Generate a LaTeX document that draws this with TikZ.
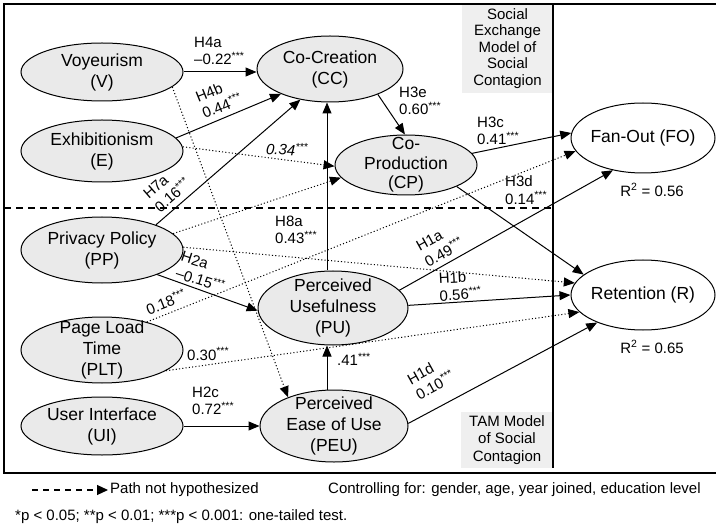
\documentclass[tikz,border=0pt]{standalone}
\usepackage{fontspec}
\setmainfont{Liberation Sans}
\usetikzlibrary{arrows.meta,shapes.geometric}
\definecolor{latfill}{HTML}{EAEAEA}
\definecolor{boxfill}{HTML}{EFEFEF}
\newcommand\sig{\textsuperscript{***}}
\begin{document}
\begin{tikzpicture}[x=1bp,y=-1bp,
  lat/.style={ellipse, draw, line width=1bp, fill=latfill, inner sep=0pt},
  outc/.style={ellipse, draw, line width=1bp, fill=white, inner sep=0pt},
  ntxt/.style={align=center, inner sep=0pt, font=\fontsize{17.5bp}{21bp}\selectfont},
  lbl/.style={align=left, inner sep=0pt, font=\fontsize{15bp}{17.5bp}\selectfont},
  sidebox/.style={fill=boxfill, inner sep=0pt, align=center, font=\fontsize{15bp}{16.5bp}\selectfont},
  hyp/.style={line width=1bp, -{Triangle[length=11bp,width=9bp]}},
  nhyp/.style={hyp, dash pattern=on 1.1bp off 2.2bp},
  frame/.style={line width=1.3bp}]
\useasboundingbox (0,0) rectangle (716,527);

% model boxes
\node[sidebox, minimum width=91bp, minimum height=89bp] (se) at (507.5,48.5)
  {Social\\Exchange\\Model of\\Social\\Contagion};
\node[sidebox, minimum width=92bp, minimum height=56bp, font=\fontsize{15bp}{17.5bp}\selectfont] (tam) at (507,440)
  {TAM Model\\of Social\\Contagion};

% frame and separators
\draw[frame] (716,4) -- (4,4) -- (4,473) -- (716,473);
\draw[line width=1.2bp] (553,4) -- (553,468);
\draw[line width=1.1bp, dash pattern=on 7bp off 5bp] (4,208) -- (553,208);

% constructs
\node[lat, minimum width=162bp, minimum height=58bp, label={[ntxt]center:{Voyeurism\\(V)}}] (v) at (102,72) {};
\node[lat, minimum width=162bp, minimum height=62bp, label={[ntxt]center:{Exhibitionism\\(E)}}] (e) at (102,151) {};
\node[lat, minimum width=162bp, minimum height=66bp, label={[ntxt]center:{Privacy Policy\\(PP)}}] (pp) at (102,250) {};
\node[lat, minimum width=162bp, minimum height=66bp, label={[ntxt]center:{Page Load\\Time\\(PLT)}}] (plt) at (102,350) {};
\node[lat, minimum width=162bp, minimum height=58bp, label={[ntxt]center:{User Interface\\(UI)}}] (ui) at (102,426) {};
\node[lat, minimum width=146bp, minimum height=66bp, label={[ntxt]center:{Co-Creation\\(CC)}}] (cc) at (330,69) {};
\node[lat, minimum width=142bp, minimum height=60bp, label={[ntxt, font=\fontsize{17.5bp}{19.5bp}\selectfont]center:{Co-\\Production\\(CP)}}] (cp) at (406,165) {};
\node[lat, minimum width=150bp, minimum height=74bp, label={[ntxt]center:{Perceived\\Usefulness\\(PU)}}] (pu) at (333,308) {};
\node[lat, minimum width=148bp, minimum height=72bp, label={[ntxt]center:{Perceived\\Ease of Use\\(PEU)}}] (peu) at (334,426) {};
\node[outc, minimum width=144bp, minimum height=70bp, label={[ntxt]center:{Fan-Out (FO)}}] (fo) at (643,138) {};
\node[outc, minimum width=144bp, minimum height=70bp, label={[ntxt]center:{Retention (R)}}] (r) at (643,295) {};

\coordinate (vx) at (327,0);

% hypothesized paths
\draw[hyp] (v.east) -- (v.east -| cc.west);
\draw[hyp] (e.10) -- (cc.207);
\draw[hyp] (pp.25) -- (cc.226);
\draw[hyp] (pu.north -| vx) -- (cc.south -| vx);
\draw[hyp] (cc.332) -- (cp.92);
\draw[hyp] (cp.10) -- (fo.176);
\draw[hyp] (cp.337) -- (r.161);
\draw[hyp] (pp.336) -- (pu.182);
\draw[hyp] (pu.15) -- (fo.227);
\draw[hyp] (pu.2) -- (r.180);
\draw[hyp] (peu.north -| vx) -- (pu.south -| vx);
\draw[hyp] (ui.east) -- (peu.west);
\draw[hyp] (peu.2) -- (r.211);

% paths not hypothesized
\draw[nhyp] (v.348) -- (peu.148);
\draw[nhyp] (e.3) -- (cp.181);
\draw[nhyp] (pp.13) -- (cp.191);
\draw[nhyp] (plt.32) -- (fo.191);
\draw[nhyp] (pp.2) -- (r.170);
\draw[nhyp] (plt.342) -- (r.195);

% path coefficients
\node[lbl, anchor=west] (l4a) at (194,51) {H4a\\--0.22\sig};
\node[lbl, rotate=22] (l4b) at (219,98) {H4b\\0.44\sig};
\node[lbl, rotate=41] (l7a) at (167,189) {H7a\\0.16\sig};
\node[lbl, anchor=west] (l3e) at (399,101) {H3e\\0.60\sig};
\node[lbl, anchor=west] (l3c) at (477,131) {H3c\\0.41\sig};
\node[lbl, anchor=west] (l3d) at (505,190) {H3d\\0.14\sig};
\node[lbl, anchor=west] (l8a) at (275,230) {H8a\\0.43\sig};
\node[lbl, rotate=-18] (l2a) at (203,272) {H2a\\--0.15\sig};
\node[lbl, rotate=22] (l18) at (166,302) {0.18\sig};
\node[lbl, rotate=29] (l1a) at (440,245) {H1a\\0.49\sig};
\node[lbl, anchor=west, rotate=3] (l1b) at (439,287) {H1b\\0.56\sig};
\node[lbl, anchor=west] (l30) at (187,354) {0.30\sig};
\node[lbl, anchor=west] (l41) at (337,359) {.41\sig};
\node[lbl, anchor=west] (l2c) at (192,401) {H2c\\0.72\sig};
\node[lbl, rotate=29] (l1d) at (431,378) {H1d\\0.10\sig};
\node[lbl, anchor=west, font=\fontsize{15bp}{17.5bp}\selectfont\itshape, rotate=-3] (l34) at (266,148) {0.34\sig};

% explained variance
\node[lbl] (r2fo) at (652,190) {R\textsuperscript{2} = 0.56};
\node[lbl] (r2r) at (652,347) {R\textsuperscript{2} = 0.65};

% legend and notes
\coordinate (lgs) at (32,490);
\node[lbl, anchor=west] (lgt) at (110,490) {Path not hypothesized};
\draw[line width=1.1bp, dash pattern=on 6bp off 5bp, -{Triangle[length=11bp,width=10bp]}, shorten >=2bp] (lgs) -- (lgt.west);
\node[lbl, anchor=west] (ctl) at (328,490) {Controlling for: gender, age, year joined, education level};
\node[lbl, anchor=west] (pv) at (15,517) {*p < 0.05; **p < 0.01; ***p < 0.001: one-tailed test.};
\end{tikzpicture}
\end{document}
